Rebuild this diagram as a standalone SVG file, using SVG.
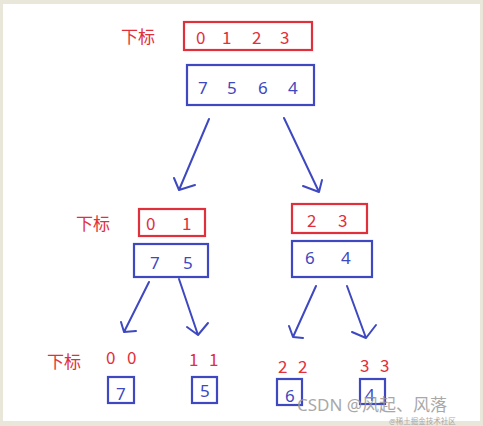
<svg xmlns="http://www.w3.org/2000/svg" width="483" height="426" viewBox="0 0 483 426">
<defs>
<style>
.red{fill:none;stroke:#e0303c;stroke-width:2.2}
.blue{fill:none;stroke:#3e48c0;stroke-width:2.2}
.rt{fill:#e0303c;font-family:"Microsoft YaHei","Noto Sans CJK SC","Noto Sans",sans-serif;font-size:17px}
.bt{fill:#3e48c0;font-family:"Noto Sans","Noto Sans CJK SC",sans-serif;font-size:17px}
.arr{fill:none;stroke:#3e48c0;stroke-width:2;stroke-linecap:round;stroke-linejoin:round}
.wm{fill:#9a9a9a;font-family:"Noto Sans","Noto Sans CJK SC",sans-serif;opacity:0.85}
</style>
</defs>
<rect x="0" y="0" width="483" height="426" fill="#e9e7da"/>
<rect x="3" y="4" width="477" height="417" fill="#ffffff"/>

<g id="labels">
<text class="rt" x="121" y="43">下标</text>
<text class="rt" x="76" y="230">下标</text>
<text class="rt" x="47" y="368">下标</text>
</g>

<g id="root-index">
<rect class="red" x="184" y="22" width="128" height="28"/>
<text class="rt" x="196" y="44">0</text>
<text class="rt" x="222" y="44">1</text>
<text class="rt" x="252" y="44">2</text>
<text class="rt" x="280" y="44">3</text>
</g>
<g id="root-values">
<rect class="blue" x="187" y="65" width="127" height="40"/>
<text class="bt" x="198" y="94">7</text>
<text class="bt" x="227" y="94">5</text>
<text class="bt" x="258" y="94">6</text>
<text class="bt" x="288" y="94">4</text>
</g>

<g id="left-index">
<rect class="red" x="139" y="209" width="66" height="27"/>
<text class="rt" x="146" y="230">0</text>
<text class="rt" x="182" y="230">1</text>
</g>
<g id="left-values">
<rect class="blue" x="134" y="244" width="74" height="33"/>
<text class="bt" x="150" y="269">7</text>
<text class="bt" x="183" y="269">5</text>
</g>

<g id="right-index">
<rect class="red" x="292" y="204" width="75" height="29"/>
<text class="rt" x="307" y="227">2</text>
<text class="rt" x="338" y="227">3</text>
</g>
<g id="right-values">
<rect class="blue" x="292" y="241" width="80" height="36"/>
<text class="bt" x="305" y="264">6</text>
<text class="bt" x="341" y="264">4</text>
</g>

<g id="leaf-7">
<text class="rt" x="106" y="364">0</text>
<text class="rt" x="127" y="364">0</text>
<rect class="blue" x="108" y="377" width="26" height="26"/>
<text class="bt" x="116" y="400">7</text>
</g>
<g id="leaf-5">
<text class="rt" x="189" y="366">1</text>
<text class="rt" x="209" y="366">1</text>
<rect class="blue" x="192" y="377" width="25" height="26"/>
<text class="bt" x="200" y="397">5</text>
</g>
<g id="leaf-6">
<text class="rt" x="278" y="373">2</text>
<text class="rt" x="298" y="373">2</text>
<rect class="blue" x="277" y="379" width="25" height="26"/>
<text class="bt" x="285" y="402">6</text>
</g>
<g id="leaf-4">
<text class="rt" x="360" y="372">3</text>
<text class="rt" x="380" y="372">3</text>
<rect class="blue" x="360" y="379" width="25" height="25"/>
<text class="bt" x="365" y="401">4</text>
</g>

<g id="connectors">
<path class="arr" d="M209,119 L179,190 M174,178 L179,190 L195,185"/>
<path class="arr" d="M284,118 L319,192 M303,186 L319,192 L322,180"/>
<path class="arr" d="M149,282 L124,332 M121,322 L124,332 L136,331"/>
<path class="arr" d="M179,279 L198,335 M187,327 L198,335 L208,323"/>
<path class="arr" d="M316,286 L293,337 M289,326 L293,337 L303,338"/>
<path class="arr" d="M347,286 L366,338 M352,332 L366,338 L376,325"/>
</g>

<g id="watermark">
<text class="wm" x="297" y="411" font-size="17">CSDN @风起、风落</text>
<text class="wm" x="389" y="424" font-size="7.5">@稀土掘金技术社区</text>
</g>
</svg>
